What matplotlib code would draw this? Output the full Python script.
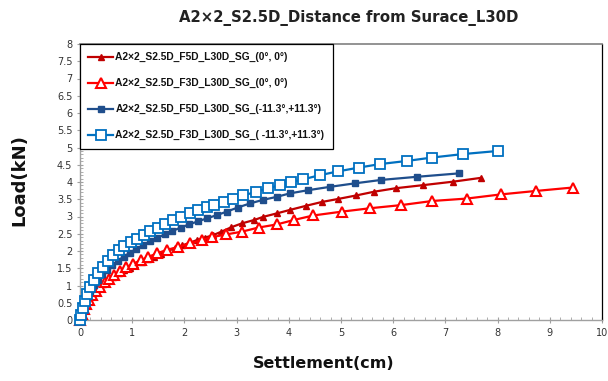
import matplotlib
matplotlib.use("Agg")
import matplotlib.pyplot as plt
from matplotlib.ticker import MultipleLocator, FuncFormatter

title = "A2×2_S2.5D_Distance from Surace_L30D"
xlabel = "Settlement(cm)"
ylabel = "Load(kN)"

labels = [
    "A2×2_S2.5D_F5D_L30D_SG_(0°, 0°)",
    "A2×2_S2.5D_F3D_L30D_SG_(0°, 0°)",
    "A2×2_S2.5D_F5D_L30D_SG_(-11.3°,+11.3°)",
    "A2×2_S2.5D_F3D_L30D_SG_( -11.3°,+11.3°)",
]

# F5D (0,0) - dark red filled triangles
x1 = [0, 0.03, 0.07, 0.11, 0.16, 0.22, 0.29, 0.37, 0.45, 0.54, 0.64, 0.74, 0.84, 0.95,
      1.06, 1.18, 1.30, 1.42, 1.55, 1.68, 1.82, 1.96, 2.10, 2.25, 2.40, 2.55, 2.71, 2.90,
      3.10, 3.34, 3.51, 3.77, 4.02, 4.33, 4.63, 4.95, 5.29, 5.64, 6.05, 6.58, 7.15, 7.68]
y1 = [0, 0.16, 0.30, 0.43, 0.56, 0.69, 0.82, 0.94, 1.05, 1.16, 1.26, 1.35, 1.44, 1.52,
      1.60, 1.68, 1.76, 1.84, 1.92, 2.00, 2.08, 2.16, 2.24, 2.32, 2.39, 2.46, 2.56, 2.69,
      2.80, 2.90, 2.99, 3.09, 3.19, 3.31, 3.42, 3.51, 3.61, 3.72, 3.82, 3.91, 4.01, 4.12]

# F3D (0,0) - red hollow triangles
x2 = [0, 0.03, 0.07, 0.12, 0.17, 0.23, 0.30, 0.38, 0.47, 0.56, 0.66, 0.77, 0.89, 1.02,
      1.16, 1.31, 1.47, 1.66, 1.88, 2.11, 2.33, 2.52, 2.80, 3.10, 3.42, 3.77, 4.10, 4.47,
      5.01, 5.56, 6.15, 6.75, 7.41, 8.06, 8.73, 9.44]
y2 = [0, 0.17, 0.32, 0.46, 0.59, 0.72, 0.85, 0.97, 1.09, 1.20, 1.31, 1.42, 1.53, 1.63,
      1.73, 1.83, 1.93, 2.03, 2.12, 2.22, 2.32, 2.40, 2.48, 2.56, 2.68, 2.77, 2.90, 3.03,
      3.14, 3.24, 3.33, 3.45, 3.52, 3.64, 3.74, 3.84]

# F5D (-11.3,+11.3) - dark blue filled squares
x3 = [0, 0.01, 0.04, 0.08, 0.13, 0.19, 0.26, 0.34, 0.43, 0.52, 0.62, 0.73, 0.84, 0.96,
      1.08, 1.21, 1.34, 1.48, 1.62, 1.77, 1.93, 2.09, 2.26, 2.44, 2.62, 2.81, 3.02, 3.26,
      3.50, 3.77, 4.02, 4.36, 4.79, 5.26, 5.77, 6.45, 7.26]
y3 = [0, 0.12, 0.32, 0.50, 0.68, 0.85, 1.01, 1.17, 1.32, 1.46, 1.59, 1.72, 1.84, 1.95,
      2.06, 2.17, 2.28, 2.38, 2.48, 2.58, 2.68, 2.77, 2.86, 2.95, 3.04, 3.14, 3.26, 3.38,
      3.48, 3.57, 3.67, 3.76, 3.86, 3.96, 4.06, 4.15, 4.25]

# F3D (-11.3,+11.3) - blue hollow squares
x4 = [0, 0.02, 0.05, 0.09, 0.14, 0.20, 0.27, 0.35, 0.44, 0.53, 0.63, 0.74, 0.85, 0.97,
      1.09, 1.22, 1.35, 1.49, 1.63, 1.78, 1.94, 2.11, 2.27, 2.43, 2.57, 2.75, 2.94, 3.13,
      3.38, 3.61, 3.83, 4.04, 4.28, 4.60, 4.95, 5.35, 5.75, 6.26, 6.75, 7.34, 8.01]
y4 = [0, 0.15, 0.35, 0.55, 0.75, 0.95, 1.15, 1.35, 1.55, 1.72, 1.88, 2.02, 2.14, 2.25,
      2.36, 2.47, 2.58, 2.68, 2.79, 2.89, 2.99, 3.09, 3.18, 3.27, 3.34, 3.43, 3.52, 3.61,
      3.72, 3.82, 3.91, 3.99, 4.08, 4.20, 4.31, 4.42, 4.52, 4.61, 4.71, 4.81, 4.90]

fig = plt.figure(figsize=(6.08, 3.81), dpi=100)
ax = fig.add_axes([80/608, 61/381, 522/608, 276/381])

ax.plot(x1, y1, color="#C00000", lw=1.6, marker="^", ms=4.8, mfc="#C00000",
        mec="#C00000", label=labels[0], clip_on=False, zorder=3)
ax.plot(x2, y2, color="#FF0000", lw=1.6, marker="^", ms=7, mfc="white",
        mec="#FF0000", mew=1.5, label=labels[1], clip_on=False, zorder=3)
ax.plot(x3, y3, color="#1F4E8C", lw=1.6, marker="s", ms=4.8, mfc="#1F4E8C",
        mec="#1F4E8C", label=labels[2], clip_on=False, zorder=3)
ax.plot(x4, y4, color="#0070C0", lw=1.6, marker="s", ms=6.5, mfc="white",
        mec="#0070C0", mew=1.3, label=labels[3], clip_on=False, zorder=3)

ax.set_xlim(0, 10)
ax.set_ylim(0, 8)
ax.xaxis.set_major_locator(MultipleLocator(1))
ax.xaxis.set_minor_locator(MultipleLocator(0.2))
ax.yaxis.set_major_locator(MultipleLocator(0.5))
ax.yaxis.set_minor_locator(MultipleLocator(0.1))
ax.yaxis.set_major_formatter(FuncFormatter(lambda v, p: f"{v:g}"))

ax.tick_params(axis="both", which="major", direction="inout", length=5, width=0.8,
               color="#A0A0A0", labelsize=7, labelcolor="#333333", pad=3)
ax.tick_params(axis="both", which="minor", direction="in", length=2.5, width=0.6,
               color="#A0A0A0")

for s in ["left", "bottom"]:
    ax.spines[s].set_color("#A0A0A0")
    ax.spines[s].set_linewidth(1.0)
ax.spines["top"].set_color("#808080")
ax.spines["top"].set_linewidth(1.2)
ax.spines["right"].set_color("#000000")
ax.spines["right"].set_linewidth(0.9)

fig.text(349/608, 1 - 18/381, title, ha="center", va="center", fontsize=10.7,
         fontweight="bold", color="#222222")
fig.text(19/608, 1 - 180/381, ylabel, rotation=90, ha="center", va="center",
         fontsize=13, fontweight="bold", color="#111111")
fig.text(324/608, 1 - 363/381, xlabel, ha="center", va="center",
         fontsize=11.5, fontweight="bold", color="#111111")

leg = ax.legend(loc="upper left", bbox_to_anchor=(0, 1), borderaxespad=0,
                fancybox=False, framealpha=1, edgecolor="#000000",
                prop={"family": ["Liberation Sans", "DejaVu Sans"], "size": 7.4,
                      "weight": "bold"},
                handlelength=2.4, handletextpad=0.25, labelspacing=1.55,
                borderpad=0.8)
leg.get_frame().set_linewidth(0.9)
for t in leg.get_texts():
    t.set_color("#111111")

fig.savefig("out.png", dpi=100)
